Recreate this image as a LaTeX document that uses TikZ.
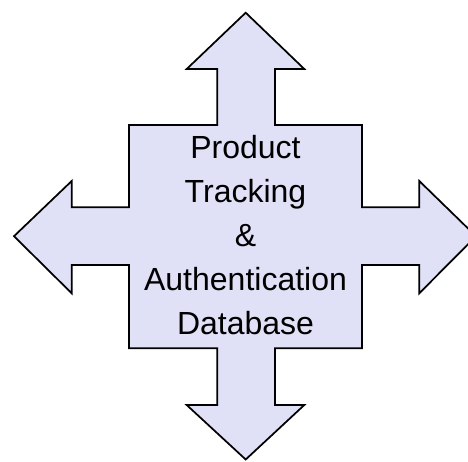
\documentclass[tikz,border=0pt]{standalone}
\usepackage{fontspec}
\setmainfont{Liberation Sans}
\definecolor{dbfill}{RGB}{224,224,246}

\begin{document}
\begin{tikzpicture}[x=0.75pt,y=-0.75pt, every text node part/.style={align=center},
  arrowshape/.style={draw=black, fill=dbfill, line width=1.3pt, line join=miter}]

\useasboundingbox (0,0) rectangle (468,461);
\clip (0,0) rectangle (468,461);

% four way arrow
\draw[arrowshape](245.7,12.7)--(304.3,69)--(275,69)--(275,125)--(362,125)--(362,207.3)
  --(419.3,207.3)--(419.3,181)--(476,236.2)--(419.3,293.3)--(419.3,265)--(362,265)
  --(362,348.3)--(275,348.3)--(275,405)--(304.3,405)--(245.7,459.5)--(186.7,405)
  --(217.3,405)--(217.3,348.3)--(129,348.3)--(129,265)--(71.7,265)--(71.7,293.3)
  --(14,236.2)--(71.7,181)--(71.7,207.3)--(129,207.3)--(129,125)--(217.3,125)
  --(217.3,69)--(186.7,69)--cycle;

\node (db) at (245.5,235.5) [font=\fontsize{24pt}{33pt}\selectfont]
  {Product \\ Tracking \\ \& \\ Authentication \\ Database};

\end{tikzpicture}
\end{document}
